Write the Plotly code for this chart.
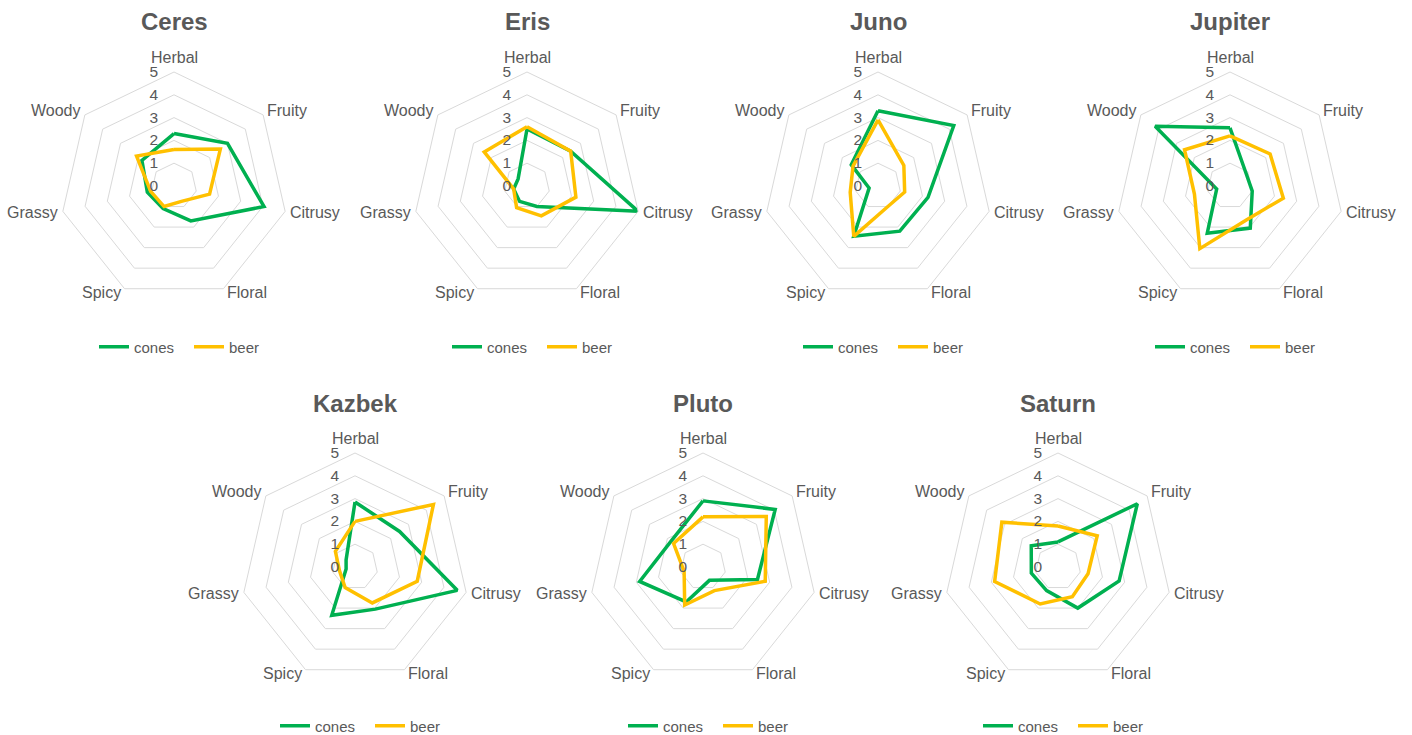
import math
import plotly.graph_objects as go

# Aroma descriptors, in clockwise order starting from the top
categories = ["Herbal", "Fruity", "Citrusy", "Floral", "Spicy", "Grassy", "Woody"]
radial_ticks = [0, 1, 2, 3, 4, 5]

# Scores per hop variety: cones vs. finished beer
ceres_cones = [2.3, 3.0, 4.05, 1.7, 1.1, 1.2, 1.8]
ceres_beer = [1.6, 2.6, 1.6, 0.75, 1.0, 1.05, 2.1]

eris_cones = [2.5, 2.45, 5.0, 1.0, 0.75, 0.6, 0.5]
eris_beer = [2.6, 2.45, 2.2, 1.45, 1.05, 0.6, 2.4]

juno_cones = [3.3, 4.25, 2.25, 2.2, 2.45, 0.4, 1.5]
juno_beer = [2.9, 1.45, 1.2, 1.0, 2.45, 1.25, 1.4]

jupiter_cones = [2.55, 0.9, 1.0, 2.05, 2.3, 0.6, 4.2]
jupiter_beer = [2.2, 2.25, 2.4, 1.65, 3.05, 1.6, 2.55]

kazbek_cones = [2.85, 2.5, 4.6, 2.05, 2.35, 0.4, 0.5]
kazbek_beer = [2.0, 4.4, 2.8, 1.75, 1.0, 0.7, 1.1]

pluto_cones = [2.9, 4.05, 2.45, 0.65, 1.7, 2.85, 1.8]
pluto_beer = [2.2, 3.55, 2.8, 1.15, 1.85, 0.85, 1.65]

saturn_cones = [1.1, 4.45, 2.75, 2.0, 1.15, 1.2, 1.5]
saturn_beer = [1.8, 2.2, 1.35, 1.45, 1.8, 2.85, 3.15]

varieties = ["Ceres", "Eris", "Juno", "Jupiter", "Kazbek", "Pluto", "Saturn"]
cones_scores = [ceres_cones, eris_cones, juno_cones, jupiter_cones,
                kazbek_cones, pluto_cones, saturn_cones]
beer_scores = [ceres_beer, eris_beer, juno_beer, jupiter_beer,
               kazbek_beer, pluto_beer, saturn_beer]

# Layout (pixels)
W, H = 1412, 735
R = 114  # radius of the outer ring
centers = [(174, 186), (527, 186), (878, 186), (1230, 186),
           (355, 567), (703, 567), (1058, 567)]
title_dy = 164
legend_y = [347, 347, 347, 347, 726, 726, 726]
legend_dx = 15
label_gap = 3

GREEN = "#00B050"
YELLOW = "#FFC000"
GRID = "#D9D9D9"
TEXT = "#595959"
FONT = "Liberation Sans, Arial, sans-serif"
CLEAR = "rgba(0,0,0,0)"


def px(x):
    return x / W


def py(y):
    return 1 - y / H


fig = go.Figure()
layout = dict(
    width=W, height=H,
    margin=dict(l=0, r=0, t=0, b=0, autoexpand=False),
    paper_bgcolor="white",
    plot_bgcolor="white",
    font=dict(family=FONT, color=TEXT, size=15),
    annotations=[],
)

theta_closed = categories + categories[:1]
step = 360 / len(categories)

for i, (name, cones, beer, (cx, cy)) in enumerate(
        zip(varieties, cones_scores, beer_scores, centers)):
    pid = "polar" if i == 0 else f"polar{i + 1}"
    lid = "legend" if i == 0 else f"legend{i + 1}"

    for label, vals, color in (("cones", cones, GREEN), ("beer", beer, YELLOW)):
        fig.add_trace(go.Scatterpolar(
            r=vals + vals[:1],
            theta=theta_closed,
            mode="lines",
            name=label,
            line=dict(color=color, width=3.5),
            subplot=pid,
            legend=lid,
            hoverinfo="skip",
        ))

    layout[pid] = dict(
        domain=dict(x=[px(cx - R), px(cx + R)],
                    y=[py(cy + R), py(cy - R)]),
        gridshape="linear",
        bgcolor="white",
        angularaxis=dict(
            rotation=90, direction="clockwise",
            showgrid=False, showline=True,
            linecolor=GRID, linewidth=1,
            ticks="", showticklabels=False,
        ),
        radialaxis=dict(
            range=[0, 5], tickvals=radial_ticks,
            showgrid=True, gridcolor=GRID, gridwidth=1,
            showline=False, angle=90, tickangle=90,
            ticks="outside", ticklen=10, tickcolor=CLEAR,
            side="counterclockwise",
            tickfont=dict(size=15.5, color=TEXT, family=FONT),
        ),
    )

    # Category names sit just outside the outer ring's corners
    for k, cat in enumerate(categories):
        a = math.radians(k * step)
        sx, sy = math.sin(a), -math.cos(a)
        vx, vy = cx + sx * R, cy + sy * R
        lx, ly = vx + sx * label_gap, vy + sy * label_gap
        if abs(sx) < 0.1:
            xa, ya = "center", "bottom"
            ly -= 1
        else:
            xa = "left" if sx > 0 else "right"
            ya = "middle"
            if sy < -0.3:
                ly -= 3
            elif sy > 0.3:
                ly += 1.5
        layout["annotations"].append(dict(
            text=cat, x=px(lx), y=py(ly), xref="paper", yref="paper",
            showarrow=False, xanchor=xa, yanchor=ya,
            font=dict(size=16, color=TEXT, family=FONT),
        ))

    layout[lid] = dict(
        orientation="h", x=px(cx + legend_dx), y=py(legend_y[i]),
        xanchor="center", yanchor="middle",
        entrywidth=50, entrywidthmode="pixels",
        font=dict(size=15, color=TEXT, family=FONT),
        bgcolor=CLEAR,
    )

    layout["annotations"].append(dict(
        text=f"<b>{name}</b>", x=px(cx), y=py(cy - title_dy),
        xref="paper", yref="paper", showarrow=False,
        xanchor="center", yanchor="middle",
        font=dict(size=24, color=TEXT, family=FONT),
    ))

fig.update_layout(**layout)
fig.write_html("out.html")
